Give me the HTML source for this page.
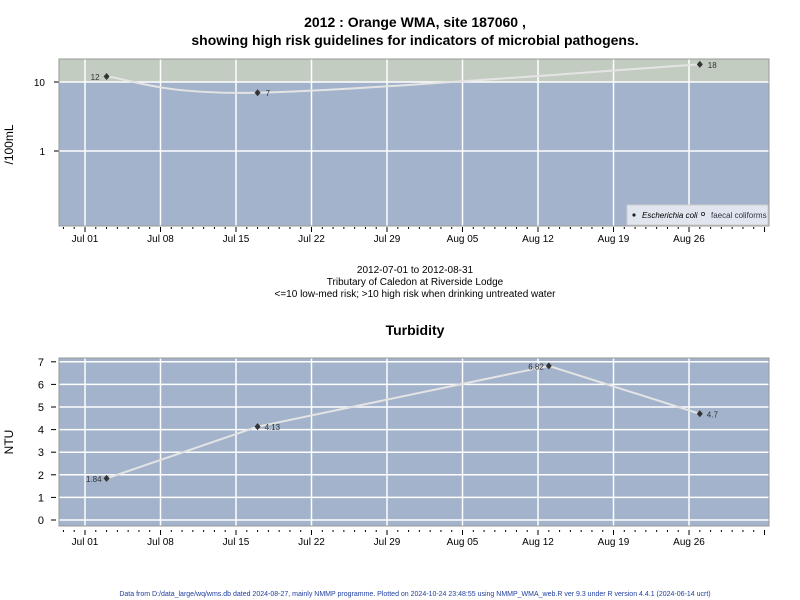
<!DOCTYPE html>
<html><head><meta charset="utf-8"><style>
body{margin:0;background:#fff;}
svg{display:block;font-family:"Liberation Sans",sans-serif;}
</style></head><body>
<svg id="chart" width="800" height="600" xmlns="http://www.w3.org/2000/svg">
<text x="415" y="27" text-anchor="middle" font-size="14" font-weight="bold">2012 : Orange WMA, site 187060 ,</text>
<text x="415" y="45" text-anchor="middle" font-size="14" font-weight="bold">showing high risk guidelines for indicators of microbial pathogens.</text>
<g id="top"></g>
<text x="415" y="273" text-anchor="middle" font-size="10">2012-07-01 to 2012-08-31</text>
<text x="415" y="285" text-anchor="middle" font-size="10">Tributary of Caledon at Riverside Lodge</text>
<text x="415" y="297" text-anchor="middle" font-size="10">&lt;=10 low-med risk; &gt;10 high risk when drinking untreated water</text>
<text x="415" y="335" text-anchor="middle" font-size="14" font-weight="bold">Turbidity</text>
<g id="bot"></g>
<text x="415" y="596" text-anchor="middle" font-size="7" fill="#2040a0">Data from D:/data_large/wq/wms.db dated 2024-08-27, mainly NMMP programme. Plotted on 2024-10-24 23:48:55 using NMMP_WMA_web.R ver 9.3 under R version 4.4.1 (2024-06-14 ucrt)</text>
</svg>
<script>
const weekLabels = ["Jul 01","Jul 08","Jul 15","Jul 22","Jul 29","Aug 05","Aug 12","Aug 19","Aug 26"];
const ecoliDays = [2, 16, 57];
const ecoliValues = [12, 7, 18];
const ecoliLabels = ["12", "7", "18"];
const turbDays = [2, 16, 43, 57];
const turbValues = [1.84, 4.13, 6.82, 4.7];
const turbLabels = ["1.84", "4.13", "6.82", "4.7"];
const logTicks = [1, 10];
const turbTicks = [0,1,2,3,4,5,6,7];
const threshold = 10;

const NS = "http://www.w3.org/2000/svg";
function mk(parent, tag, attrs, text){const e=document.createElementNS(NS,tag);for(const k in attrs)e.setAttribute(k,attrs[k]);if(text!==undefined)e.textContent=text;parent.appendChild(e);return e;}
const L=59, R=769;
const xDay = d => 85 + d*10.786;

function xAxis(g, top, bottom){
  for(let d=-2; d<=63; d++){
    const x=xDay(d); if(x<L||x>R) continue;
    const major = d%7===0;
    const t=mk(g,'line',{x1:x,x2:x,y1:bottom,y2:bottom+(major?5:2),stroke:'#000','stroke-width':1});
    
    
  }
  weekLabels.forEach((lab,i)=>{
    const t=mk(g,'text',{x:xDay(i*7),y:bottom+15,'text-anchor':'middle','font-size':10},lab);
    
    
  });
}
function vgrid(g, top, bottom){
  weekLabels.forEach((lab,i)=>{
    const l=mk(g,'line',{x1:xDay(i*7),x2:xDay(i*7),y1:top,y2:bottom,stroke:'#fff','stroke-width':1.5});
    
    
  });
}
function smoothPath(pts){
  let d=`M${pts[0][0]},${pts[0][1]}`;
  for(let i=0;i<pts.length-1;i++){
    const p0=pts[i-1]||pts[i],p1=pts[i],p2=pts[i+1],p3=pts[i+2]||p2;
    const c1=[p1[0]+(p2[0]-p0[0])/6,p1[1]+(p2[1]-p0[1])/6];
    const c2=[p2[0]-(p3[0]-p1[0])/6,p2[1]-(p3[1]-p1[1])/6];
    d+=` C${c1[0]},${c1[1]} ${c2[0]},${c2[1]} ${p2[0]},${p2[1]}`;
  }
  return d;
}
function diamond(g,x,y){
  const p=mk(g,'path',{d:`M${x},${y-3.5}L${x+3},${y}L${x},${y+3.5}L${x-3},${y}Z`,fill:'#333'});
  
  
}

// top panel (log)
(function(){
  const g=document.getElementById('top'); const T=59,B=226;
  const yL = v => 151 - Math.log10(v)*69;
  const bg=mk(g,'rect',{x:L,y:T,width:R-L,height:B-T,fill:'#a2b3cb'});
   
  const hi=mk(g,'rect',{x:L,y:T,width:R-L,height:yL(threshold)-T,fill:'#c2ccc1'});
   
  vgrid(g,T,B);
  logTicks.forEach(v=>{
    const l=mk(g,'line',{x1:L,x2:R,y1:yL(v),y2:yL(v),stroke:'#fff','stroke-width':1.5});
     
    const t=mk(g,'line',{x1:L-5,x2:L,y1:yL(v),y2:yL(v),stroke:'#000'});
     
    const s=mk(g,'text',{x:L-14,y:yL(v)+4,'text-anchor':'end','font-size':10},String(v));
     
  });
  const pts=ecoliDays.map((d,i)=>[xDay(d),yL(ecoliValues[i])]);
  const ln=mk(g,'path',{d:smoothPath(pts),fill:'none',stroke:'#e4e4e4','stroke-width':2});
   
  pts.forEach((p,i)=>{
    diamond(g,p[0],p[1]);
    const left = i===0;
    const t=mk(g,'text',{x:left?p[0]-7:p[0]+8,y:p[1]+3.5,'text-anchor':left?'end':'start','font-size':8,fill:'#333'},ecoliLabels[i]);
     
  });
  const fr=mk(g,'rect',{x:L,y:T,width:R-L,height:B-T,fill:'none',stroke:'#999'});
   
  const lg=mk(g,'g',{});
   
  mk(lg,'rect',{x:627,y:205,width:141,height:20,fill:'#e1e6ee',stroke:'#ccc'});
  mk(lg,'circle',{cx:634,cy:215,r:1.6,fill:'#222'});
  const e1=mk(lg,'text',{x:642,y:218,'font-size':8,'font-style':'italic'},'Escherichia coli');
   
  mk(lg,'circle',{cx:703,cy:214,r:1.6,fill:'none',stroke:'#222','stroke-width':0.8});
  const e2=mk(lg,'text',{x:711,y:218,'font-size':8,fill:'#334'},'faecal coliforms');
   
  xAxis(g,T,B+1);
  const yt=mk(g,'text',{x:0,y:0,'font-size':12,transform:`translate(13,${(T+B)/2+2}) rotate(-90)`,'text-anchor':'middle'},'/100mL');
   
})();

// bottom panel (linear)
(function(){
  const g=document.getElementById('bot'); const T=358,B=526;
  const yS = v => 520 - v*22.6;
  const bg=mk(g,'rect',{x:L,y:T,width:R-L,height:B-T,fill:'#a2b3cb'});
   
  vgrid(g,T,B);
  turbTicks.forEach(v=>{
    const l=mk(g,'line',{x1:L,x2:R,y1:yS(v),y2:yS(v),stroke:'#fff','stroke-width':1.5});
     
    const t=mk(g,'line',{x1:L-8,x2:L-3,y1:yS(v),y2:yS(v),stroke:'#000'});
     
    const s=mk(g,'text',{x:L-15,y:yS(v)+4,'text-anchor':'end','font-size':11},String(v));
     
  });
  const pts=turbDays.map((d,i)=>[xDay(d),yS(turbValues[i])]);
  const ln=mk(g,'polyline',{points:pts.map(p=>p.join(',')).join(' '),fill:'none',stroke:'#e4e4e4','stroke-width':2});
   
  pts.forEach((p,i)=>{
    diamond(g,p[0],p[1]);
    const left = i===0 || i===2;
    const t=mk(g,'text',{x:left?p[0]-5:p[0]+7,y:p[1]+3.5,'text-anchor':left?'end':'start','font-size':8,fill:'#333'},turbLabels[i]);
     
  });
  const fr=mk(g,'rect',{x:L,y:T,width:R-L,height:B-T,fill:'none',stroke:'#999'});
   
  xAxis(g,T,B+4);
  const yt=mk(g,'text',{x:0,y:0,'font-size':12,transform:`translate(13,${(T+B)/2}) rotate(-90)`,'text-anchor':'middle'},'NTU');
   
})();
</script>
</body></html>
